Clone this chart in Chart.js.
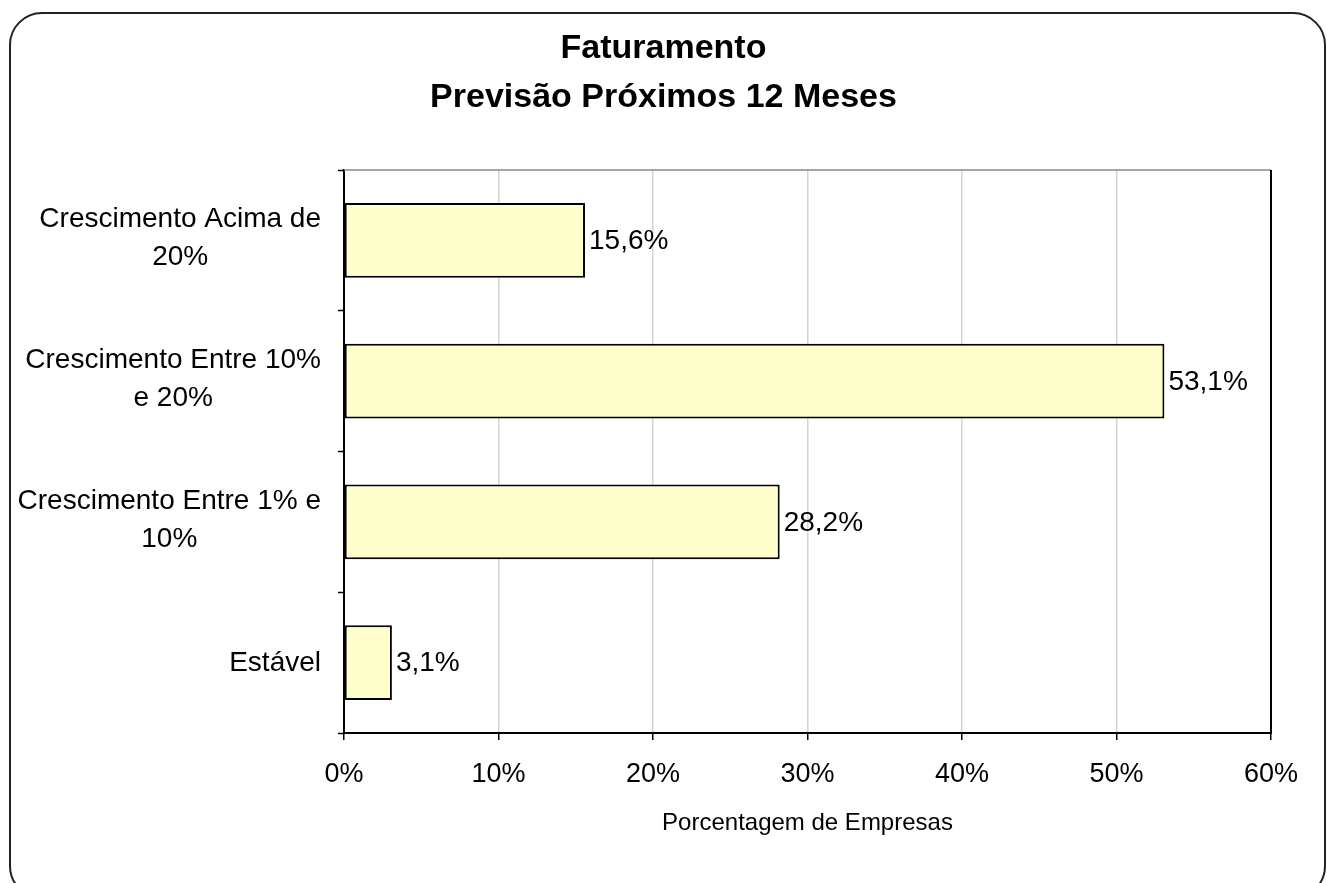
<!DOCTYPE html>
<html>
<head>
<meta charset="utf-8">
<title>Faturamento - Previsão Próximos 12 Meses</title>
<script src="https://cdn.jsdelivr.net/npm/chart.js@4/dist/chart.umd.min.js"></script>
<style>
  html, body { margin: 0; padding: 0; background: #fff; }
  #wrap { width: 1327px; height: 883px; }
</style>
</head>
<body>
<div id="wrap"><canvas id="faturamento-chart" width="1327" height="883"></canvas></div>
<script>
// Chart data
const categories = [
    ['Crescimento Acima de', '20%'],
    ['Crescimento Entre 10%', 'e 20%'],
    ['Crescimento Entre 1% e', '10%'],
    ['Estável']
];
const percentages = [15.6, 53.1, 28.2, 3.1];
const xTicks = [0, 10, 20, 30, 40, 50, 60];
const titleLines = ['Faturamento', 'Previsão Próximos 12 Meses'];
const xAxisTitle = 'Porcentagem de Empresas';

const FONT = '"Liberation Sans", Arial, sans-serif';
Chart.defaults.font.family = FONT;
Chart.defaults.color = '#000';

// Rounded frame around the whole chart + centred title
const framePlugin = {
    id: 'frame',
    beforeDraw(chart) {
        const c = chart.ctx;
        c.save();
        c.fillStyle = '#fff';
        c.fillRect(0, 0, chart.width, chart.height);
        c.beginPath();
        c.roundRect(10, 13, 1315, 885, 32);
        c.lineWidth = 2;
        c.strokeStyle = '#222';
        c.stroke();

        c.fillStyle = '#000';
        c.font = 'bold 34px ' + FONT;
        c.textAlign = 'center';
        c.textBaseline = 'alphabetic';
        titleLines.forEach((t, i) => c.fillText(t, chart.width / 2, 58 + i * 49));
        c.restore();
    }
};

// Plot-area top/right borders, category labels and value labels
const extrasPlugin = {
    id: 'extras',
    afterDraw(chart) {
        const c = chart.ctx;
        const area = chart.chartArea;
        const xs = chart.scales.x;
        const ys = chart.scales.y;
        c.save();

        c.lineWidth = 1.5;
        c.strokeStyle = '#888';
        c.beginPath();
        c.moveTo(area.left, area.top);
        c.lineTo(area.right, area.top);
        c.stroke();
        c.lineWidth = 2;
        c.strokeStyle = '#000';
        c.beginPath();
        c.moveTo(area.right, area.top);
        c.lineTo(area.right, area.bottom + 1);
        c.stroke();

        // category labels: block right-aligned to the axis, lines centred in the block
        c.font = '28px ' + FONT;
        c.fillStyle = '#000';
        c.textBaseline = 'middle';
        c.textAlign = 'center';
        const right = area.left - 23;
        categories.forEach((lines, i) => {
            const yc = ys.getPixelForTick(i);
            const w = Math.max(...lines.map(l => c.measureText(l).width));
            const cx = right - w / 2;
            if (lines.length === 1) {
                c.fillText(lines[0], cx, yc + 1);
            } else {
                c.fillText(lines[0], cx, yc - 21);
                c.fillText(lines[1], cx, yc + 17);
            }
        });

        // value labels
        const meta = chart.getDatasetMeta(0);
        c.textAlign = 'left';
        meta.data.forEach((bar, i) => {
            const txt = percentages[i].toFixed(1).replace('.', ',') + '%';
            c.fillText(txt, xs.getPixelForValue(percentages[i]) + 4, bar.y + 1);
        });
        c.restore();
    }
};

const ctx = document.getElementById('faturamento-chart').getContext('2d');
const chart = new Chart(ctx, {
    type: 'bar',
    data: {
        labels: categories,
        datasets: [{
            data: percentages,
            backgroundColor: '#FFFFCC',
            borderColor: '#000',
            borderWidth: 2,
            borderSkipped: false,
            barPercentage: 0.53,
            categoryPercentage: 1
        }]
    },
    options: {
        indexAxis: 'y',
        responsive: false,
        animation: false,
        devicePixelRatio: 1,
        layout: { padding: { left: 0, right: 56, top: 170, bottom: 0 } },
        plugins: {
            legend: { display: false },
            tooltip: { enabled: false },
            title: { display: false }
        },
        scales: {
            x: {
                min: 0,
                max: 60,
                afterBuildTicks: s => { s.ticks = xTicks.map(v => ({ value: v })); },
                afterFit: s => { s.height = 150; },
                ticks: {
                    padding: 18,
                    font: { size: 27 },
                    color: '#000',
                    maxRotation: 0,
                    callback: v => v + '%'
                },
                grid: {
                    color: '#d4d4d4',
                    lineWidth: 1.5,
                    tickColor: '#000',
                    tickLength: 7,
                    tickWidth: 1.5
                },
                border: { color: '#000', width: 2 },
                title: {
                    display: true,
                    text: xAxisTitle,
                    color: '#000',
                    font: { size: 24 },
                    padding: { top: 0, bottom: 45 }
                }
            },
            y: {
                afterFit: s => { s.width = 344; },
                ticks: { display: false },
                grid: {
                    offset: true,
                    drawOnChartArea: false,
                    tickColor: '#000',
                    tickLength: 6,
                    tickWidth: 1.5
                },
                border: { color: '#000', width: 2 }
            }
        }
    },
    plugins: [framePlugin, extrasPlugin]
});
</script>
</body>
</html>
